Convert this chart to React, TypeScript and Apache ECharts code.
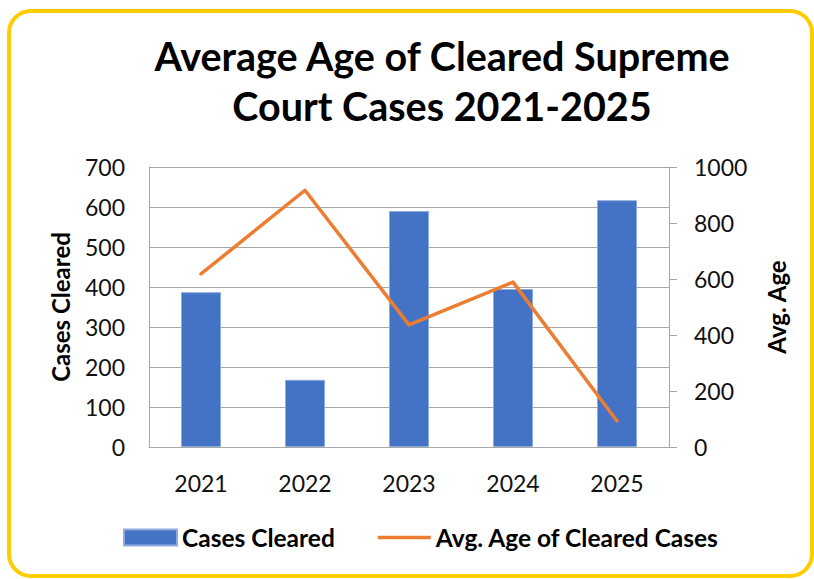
import React, { useEffect, useRef } from "react";
import * as echarts from "echarts";

const categories = ["2021", "2022", "2023", "2024", "2025"];
const casesCleared = [387, 168, 590, 395, 617];
const avgAge = [618, 917, 436, 589, 93];
const leftTicks = { min: 0, max: 700, interval: 100 };
const rightTicks = { min: 0, max: 1000, interval: 200 };

const FONT = "Lato, 'Open Sans', sans-serif";
const GRAY = "#A6A6A6";

export default function App() {
  const ref = useRef<HTMLDivElement>(null);
  useEffect(() => {
    document.body.style.margin = "0";
    const chart = echarts.init(ref.current!, null, { renderer: "svg" });
    chart.setOption({
      animation: false,
      backgroundColor: "#ffffff",
      textStyle: { fontFamily: FONT },
      graphic: [
        {
          type: "rect",
          shape: { x: 9, y: 11, width: 803, height: 565, r: 22 },
          style: { fill: "none", stroke: "#FFCC00", lineWidth: 4 },
          z: 10,
        },
        {
          type: "text",
          x: 442,
          y: 30,
          style: {
            text: "Average Age of Cleared Supreme\nCourt Cases 2021-2025",
            fill: "#000",
            font: `bold 39.5px ${FONT}`,
            textAlign: "center",
            textVerticalAlign: "top",
            lineHeight: 50,
          },
        },
      ],
      grid: { left: 149, right: 145, top: 167, bottom: 132, containLabel: false },
      legend: {
        left: 123,
        top: 525,
        padding: 0,
        itemWidth: 53,
        itemHeight: 16,
        itemGap: 43,
        symbolKeepAspect: true,
        textStyle: { fontFamily: FONT, fontWeight: "bold", fontSize: 24.5, color: "#000" },
        data: [
          { name: "Cases Cleared", icon: "rect" },
          { name: "Avg. Age of Cleared Cases", icon: "path://M0,0H53V3.5H0Z" },
        ],
      },
      xAxis: {
        type: "category",
        data: categories,
        boundaryGap: true,
        axisLine: { show: true, lineStyle: { color: GRAY, width: 1 } },
        axisTick: { show: false },
        axisLabel: { color: "#111", fontSize: 23, fontFamily: FONT, margin: 24 },
      },
      yAxis: [
        {
          type: "value",
          min: leftTicks.min,
          max: leftTicks.max,
          interval: leftTicks.interval,
          name: "Cases Cleared",
          nameLocation: "middle",
          nameRotate: 90,
          nameGap: 77,
          nameTextStyle: { fontFamily: FONT, fontWeight: "bold", fontSize: 24, color: "#000" },
          axisLine: { show: true, lineStyle: { color: GRAY, width: 1 } },
          axisTick: { show: false },
          axisLabel: { color: "#111", fontSize: 23, fontFamily: FONT, margin: 24 },
          splitLine: { show: true, lineStyle: { color: GRAY, width: 1 } },
        },
        {
          type: "value",
          position: "right",
          min: rightTicks.min,
          max: rightTicks.max,
          interval: rightTicks.interval,
          name: "Avg. Age",
          nameLocation: "middle",
          nameRotate: 90,
          nameGap: 95,
          nameTextStyle: { fontFamily: FONT, fontWeight: "bold", fontSize: 24, color: "#000" },
          axisLine: { show: true, lineStyle: { color: GRAY, width: 1 } },
          axisTick: { show: true, inside: false, length: 8, lineStyle: { color: GRAY, width: 1 } },
          axisLabel: { color: "#111", fontSize: 23, fontFamily: FONT, margin: 25, formatter: (v: number) => String(v) },
          splitLine: { show: false },
        },
      ],
      series: [
        {
          name: "Cases Cleared",
          type: "bar",
          yAxisIndex: 0,
          data: casesCleared,
          barWidth: 40,
          itemStyle: { color: "#4472C4", borderColor: "#8FAADC", borderWidth: 1 },
        },
        {
          name: "Avg. Age of Cleared Cases",
          type: "line",
          yAxisIndex: 1,
          data: avgAge,
          symbol: "none",
          lineStyle: { color: "#ED7D31", width: 3.5, cap: "round", join: "round" },
          itemStyle: { color: "#ED7D31" },
        },
      ],
    });
    return () => chart.dispose();
  }, []);
  return <div ref={ref} style={{ width: 814, height: 579, position: "absolute", left: 0, top: 0 }} />;
}
